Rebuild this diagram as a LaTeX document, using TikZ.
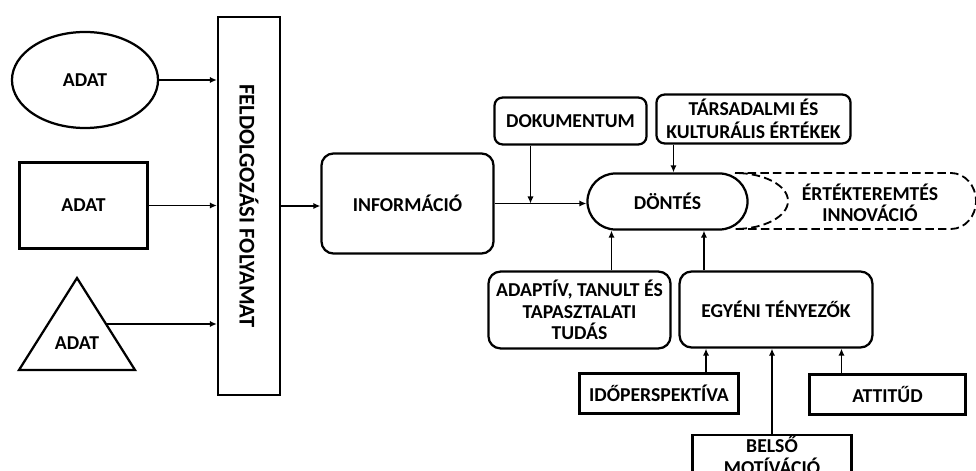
\documentclass[tikz,border=0pt]{standalone}
\usepackage{fontspec}
\setmainfont{Carlito}
\usetikzlibrary{positioning}
\usetikzlibrary{calc}
\usetikzlibrary{arrows.meta}
\usetikzlibrary{shapes}

\begin{document}
\begin{tikzpicture} [
    x=0.025cm, y=-0.025cm,                               % one unit is one pixel of the sketch
    font=\fontsize{14}{15.5}\selectfont\bfseries,        % bold sans for every label
    ]
% -------------------------------------------------
\tikzset{
  base/.style={draw, line width=1.6pt, align=center, inner sep=2pt},
  rect/.style={base, rectangle},
  rbox/.style={base, rectangle, rounded corners=0.3cm},
  line/.style={draw, line width=1.3pt, -{Latex[length=5pt,width=4.5pt]}},
  dots/.style={draw, line width=1.3pt, dash pattern=on 6pt off 3pt}
}

    \useasboundingbox (0,0) rectangle (976,471);
    \clip (0,0) rectangle (976,471);

    % left column: the three kinds of data
    \node [base, ellipse, minimum width=3.65cm, minimum height=2.4cm] (adt1) at (85,80) {ADAT};
    \node [rect, minimum width=3.2cm, minimum height=2.15cm] (adt2) at (83.5,205.5) {ADAT};
    \draw [line width=1.6pt] (77,278) -- (135,370) -- (19,370) -- cycle;      % triangle outline
    \coordinate (adt3) at (106,324);                                        % triangle: middle of right side
    \node (adt3txt) at (77,343) {ADAT};

    \node [rect, minimum width=1.55cm, minimum height=9.45cm] (prc) at (249,206)
        {\rotatebox{-90}{\fontsize{16}{18}\selectfont FELDOLGOZÁSI FOLYAMAT}};

    \node [rbox, minimum width=4.3cm, minimum height=2.5cm] (inf) at (407.5,203.5) {INFORMÁCIÓ};
    \node [rbox, rounded corners=0.2cm, minimum width=3.8cm, minimum height=1.17cm] (doc) at (570.5,121) {DOKUMENTUM};
    \node [rbox, rounded corners=0.2cm, minimum width=4.85cm, minimum height=1.22cm,
           font=\fontsize{14}{16.5}\selectfont\bfseries] (tke) at (753.5,119) {TÁRSADALMI ÉS\\KULTURÁLIS ÉRTÉKEK};

    % dashed outcome behind the decision
    \draw [dots] (735,173) -- (951,173) arc (-90:90:25 and 28) -- (735,229) arc (90:-90:53 and 28) -- cycle;
    \node [rbox, rounded corners=0.7cm, minimum width=4.0cm, minimum height=1.4cm] (dnt) at (667.5,201.5) {DÖNTÉS};
    \node [align=center, font=\fontsize{14}{14.5}\selectfont\bfseries] (inv) at (870,203) {ÉRTÉKTEREMTÉS\\INNOVÁCIÓ};

    \node [rbox, minimum width=4.55cm, minimum height=1.92cm] (tud) at (579.5,310) {ADAPTÍV, TANULT ÉS\\TAPASZTALATI\\TUDÁS};
    \node [rbox, minimum width=4.82cm, minimum height=1.9cm] (egy) at (776,309.5) {EGYÉNI TÉNYEZŐK};

    \node [rect, minimum width=3.97cm, minimum height=1.0cm] (ido) at (659,393.5) {IDŐPERSPEKTÍVA};
    \node [rect, minimum width=3.9cm, minimum height=1.0cm] (att) at (887.5,394.5) {ATTITŰD};
    \node [rect, anchor=north, minimum width=3.97cm, inner ysep=1pt] (bel) at (772,434) {BELSŐ\\MOTÍVÁCIÓ};

    % \node [rect, below=of bel] (tmp) {};

    \path [line] (adt1.east) -- (adt1.east -| prc.west);
    \path [line] (adt2.east) -- (adt2.east -| prc.west);
    \path [line] (adt3) -- (adt3 -| prc.west);
    \path [line] (prc.east) -- (prc.east -| inf.west);
    \path [line] (inf.east) -- (inf.east -| dnt.west);

    \path [line] ([xshift=-1cm]doc.south) -- ([xshift=-1cm]doc.south |- inf.east);
    \path [line] ([xshift=-2cm]tke.south) -- ([xshift=-2cm]tke.south |- dnt.north);
    \path [line] ([xshift=0.8cm]tud.north) -- ([xshift=0.8cm]tud.north |- dnt.south);
    \path [line] ([xshift=-1.8cm]egy.north) -- ([xshift=-1.8cm]egy.north |- dnt.south);

    \path [line] ([xshift=1.175cm]ido.north) -- ([xshift=1.175cm]ido.north |- egy.south);
    \path [line] (bel.north) -- (bel.north |- egy.south);
    \path [line] ([xshift=-1.15cm]att.north) -- ([xshift=-1.15cm]att.north |- egy.south);

\end{tikzpicture}
\end{document}
